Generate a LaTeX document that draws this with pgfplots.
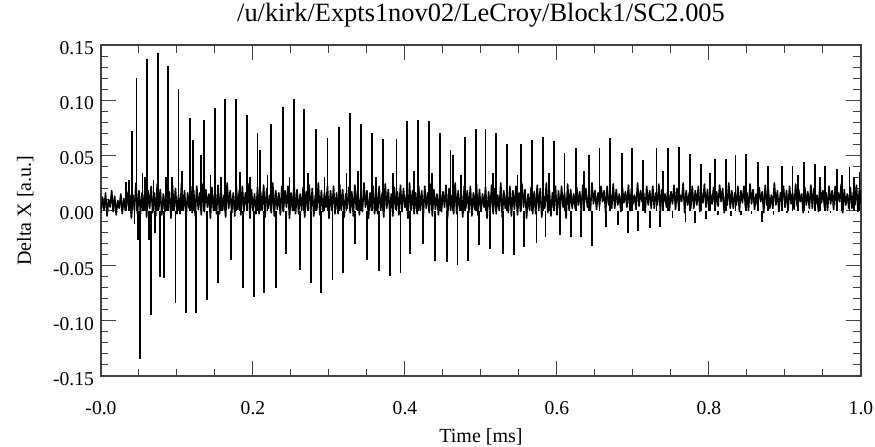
\documentclass[border=0pt]{standalone}
\usepackage{fontspec}
\setmainfont{Liberation Serif}
\usepackage{pgfplots}
\usepackage{pgfplotstable}
\pgfplotsset{compat=1.18}

% background trace between the spikes, Delta X vs time [ms]
\pgfplotstableread[row sep=\\]{
t v\\
0.000 -0.002\\ 0.002 0.012\\ 0.004 0.001\\ 0.006 0.016\\ 0.008 -0.005\\ 0.010 0.010\\ 0.012 0.003\\ 0.014 0.018\\ 0.016 -0.001\\ 0.018 0.013\\
0.020 -0.004\\ 0.022 0.009\\ 0.024 0.002\\ 0.026 0.015\\ 0.028 -0.003\\ 0.030 0.011\\ 0.032 0.000\\ 0.034 0.017\\ 0.036 0.004\\ 0.038 0.014\\
0.040 -0.007\\ 0.042 0.014\\ 0.044 0.000\\ 0.046 0.025\\ 0.048 -0.003\\ 0.050 0.018\\ 0.052 -0.003\\ 0.054 0.016\\ 0.056 0.000\\ 0.058 0.022\\
0.060 -0.006\\ 0.062 0.018\\ 0.064 0.002\\ 0.066 0.022\\ 0.068 -0.002\\ 0.070 0.016\\ 0.072 -0.005\\ 0.074 0.024\\ 0.076 0.001\\ 0.078 0.019\\
0.080 -0.004\\ 0.082 0.015\\ 0.084 -0.001\\ 0.086 0.021\\ 0.088 0.003\\ 0.090 0.017\\ 0.092 -0.007\\ 0.094 0.023\\ 0.096 0.000\\ 0.098 0.020\\
0.100 -0.003\\ 0.102 0.014\\ 0.104 -0.003\\ 0.106 0.025\\ 0.108 0.000\\ 0.110 0.018\\ 0.112 -0.006\\ 0.114 0.016\\ 0.116 0.002\\ 0.118 0.022\\
0.120 -0.002\\ 0.122 0.018\\ 0.124 -0.005\\ 0.126 0.022\\ 0.128 0.001\\ 0.130 0.016\\ 0.132 -0.004\\ 0.134 0.024\\ 0.136 -0.001\\ 0.138 0.019\\
0.140 0.003\\ 0.142 0.015\\ 0.144 -0.007\\ 0.146 0.021\\ 0.148 0.000\\ 0.150 0.017\\ 0.152 -0.003\\ 0.154 0.023\\ 0.156 -0.003\\ 0.158 0.020\\
0.160 0.000\\ 0.162 0.014\\ 0.164 -0.006\\ 0.166 0.025\\ 0.168 0.002\\ 0.170 0.018\\ 0.172 -0.002\\ 0.174 0.016\\ 0.176 -0.005\\ 0.178 0.022\\
0.180 0.001\\ 0.182 0.018\\ 0.184 -0.004\\ 0.186 0.022\\ 0.188 -0.001\\ 0.190 0.016\\ 0.192 0.003\\ 0.194 0.024\\ 0.196 -0.007\\ 0.198 0.019\\
0.200 0.000\\ 0.202 0.015\\ 0.204 -0.003\\ 0.206 0.021\\ 0.208 -0.003\\ 0.210 0.017\\ 0.212 0.000\\ 0.214 0.023\\ 0.216 -0.006\\ 0.218 0.020\\
0.220 0.002\\ 0.222 0.014\\ 0.224 -0.002\\ 0.226 0.025\\ 0.228 -0.005\\ 0.230 0.018\\ 0.232 0.001\\ 0.234 0.016\\ 0.236 -0.004\\ 0.238 0.022\\
0.240 -0.001\\ 0.242 0.018\\ 0.244 0.003\\ 0.246 0.022\\ 0.248 -0.007\\ 0.250 0.016\\ 0.252 0.000\\ 0.254 0.024\\ 0.256 -0.003\\ 0.258 0.019\\
0.260 -0.003\\ 0.262 0.015\\ 0.264 0.000\\ 0.266 0.021\\ 0.268 -0.006\\ 0.270 0.017\\ 0.272 0.002\\ 0.274 0.023\\ 0.276 -0.002\\ 0.278 0.020\\
0.280 -0.005\\ 0.282 0.014\\ 0.284 0.001\\ 0.286 0.025\\ 0.288 -0.004\\ 0.290 0.018\\ 0.292 -0.001\\ 0.294 0.016\\ 0.296 0.003\\ 0.298 0.022\\
0.300 -0.007\\ 0.302 0.018\\ 0.304 0.000\\ 0.306 0.022\\ 0.308 -0.003\\ 0.310 0.016\\ 0.312 -0.003\\ 0.314 0.024\\ 0.316 0.000\\ 0.318 0.019\\
0.320 -0.006\\ 0.322 0.015\\ 0.324 0.002\\ 0.326 0.021\\ 0.328 -0.002\\ 0.330 0.017\\ 0.332 -0.005\\ 0.334 0.023\\ 0.336 0.001\\ 0.338 0.020\\
0.340 -0.004\\ 0.342 0.014\\ 0.344 -0.001\\ 0.346 0.025\\ 0.348 0.003\\ 0.350 0.018\\ 0.352 -0.007\\ 0.354 0.016\\ 0.356 0.000\\ 0.358 0.022\\
0.360 -0.003\\ 0.362 0.018\\ 0.364 -0.003\\ 0.366 0.022\\ 0.368 0.000\\ 0.370 0.016\\ 0.372 -0.006\\ 0.374 0.024\\ 0.376 0.002\\ 0.378 0.019\\
0.380 -0.002\\ 0.382 0.015\\ 0.384 -0.005\\ 0.386 0.021\\ 0.388 0.001\\ 0.390 0.017\\ 0.392 -0.004\\ 0.394 0.023\\ 0.396 -0.001\\ 0.398 0.020\\
0.400 0.003\\ 0.402 0.014\\ 0.404 -0.007\\ 0.406 0.025\\ 0.408 0.000\\ 0.410 0.018\\ 0.412 -0.003\\ 0.414 0.016\\ 0.416 -0.003\\ 0.418 0.022\\
0.420 0.000\\ 0.422 0.018\\ 0.424 -0.006\\ 0.426 0.022\\ 0.428 0.002\\ 0.430 0.016\\ 0.432 -0.002\\ 0.434 0.024\\ 0.436 -0.005\\ 0.438 0.019\\
0.440 0.001\\ 0.442 0.015\\ 0.444 -0.004\\ 0.446 0.021\\ 0.448 -0.001\\ 0.450 0.017\\ 0.452 0.003\\ 0.454 0.023\\ 0.456 -0.007\\ 0.458 0.020\\
0.460 0.000\\ 0.462 0.014\\ 0.464 -0.003\\ 0.466 0.025\\ 0.468 -0.003\\ 0.470 0.018\\ 0.472 0.000\\ 0.474 0.016\\ 0.476 -0.006\\ 0.478 0.022\\
0.480 0.002\\ 0.482 0.018\\ 0.484 -0.002\\ 0.486 0.022\\ 0.488 -0.005\\ 0.490 0.016\\ 0.492 0.001\\ 0.494 0.024\\ 0.496 -0.004\\ 0.498 0.019\\
0.500 -0.001\\ 0.502 0.015\\ 0.504 0.003\\ 0.506 0.021\\ 0.508 -0.007\\ 0.510 0.017\\ 0.512 0.000\\ 0.514 0.023\\ 0.516 -0.003\\ 0.518 0.020\\
0.520 -0.003\\ 0.522 0.014\\ 0.524 0.000\\ 0.526 0.025\\ 0.528 -0.006\\ 0.530 0.018\\ 0.532 0.002\\ 0.534 0.016\\ 0.536 -0.002\\ 0.538 0.022\\
0.540 -0.005\\ 0.542 0.018\\ 0.544 0.001\\ 0.546 0.022\\ 0.548 -0.004\\ 0.550 0.016\\ 0.552 -0.001\\ 0.554 0.024\\ 0.556 0.003\\ 0.558 0.019\\
0.560 -0.007\\ 0.562 0.015\\ 0.564 0.000\\ 0.566 0.021\\ 0.568 -0.003\\ 0.570 0.017\\ 0.572 -0.003\\ 0.574 0.023\\ 0.576 0.000\\ 0.578 0.020\\
0.580 -0.006\\ 0.582 0.014\\ 0.584 0.002\\ 0.586 0.025\\ 0.588 -0.002\\ 0.590 0.018\\ 0.592 -0.005\\ 0.594 0.016\\ 0.596 0.001\\ 0.598 0.022\\
0.600 -0.004\\ 0.602 0.018\\ 0.604 -0.001\\ 0.606 0.022\\ 0.608 0.003\\ 0.610 0.016\\ 0.612 -0.007\\ 0.614 0.024\\ 0.616 0.000\\ 0.618 0.019\\
0.620 0.002\\ 0.622 0.015\\ 0.624 0.002\\ 0.626 0.021\\ 0.628 0.005\\ 0.630 0.017\\ 0.632 -0.001\\ 0.634 0.023\\ 0.636 0.007\\ 0.638 0.020\\
0.640 0.003\\ 0.642 0.014\\ 0.644 0.000\\ 0.646 0.025\\ 0.648 0.006\\ 0.650 0.018\\ 0.652 0.001\\ 0.654 0.016\\ 0.656 0.004\\ 0.658 0.022\\
0.660 0.008\\ 0.662 0.018\\ 0.664 -0.002\\ 0.666 0.022\\ 0.668 0.005\\ 0.670 0.016\\ 0.672 0.002\\ 0.674 0.024\\ 0.676 0.002\\ 0.678 0.019\\
0.680 0.005\\ 0.682 0.015\\ 0.684 -0.001\\ 0.686 0.021\\ 0.688 0.007\\ 0.690 0.017\\ 0.692 0.003\\ 0.694 0.023\\ 0.696 0.000\\ 0.698 0.020\\
0.700 0.006\\ 0.702 0.014\\ 0.704 0.001\\ 0.706 0.025\\ 0.708 0.004\\ 0.710 0.018\\ 0.712 0.008\\ 0.714 0.016\\ 0.716 -0.002\\ 0.718 0.022\\
0.720 0.005\\ 0.722 0.018\\ 0.724 0.002\\ 0.726 0.022\\ 0.728 0.002\\ 0.730 0.016\\ 0.732 0.005\\ 0.734 0.024\\ 0.736 -0.001\\ 0.738 0.019\\
0.740 0.007\\ 0.742 0.015\\ 0.744 0.003\\ 0.746 0.021\\ 0.748 0.000\\ 0.750 0.017\\ 0.752 0.006\\ 0.754 0.023\\ 0.756 0.001\\ 0.758 0.020\\
0.760 0.004\\ 0.762 0.014\\ 0.764 0.008\\ 0.766 0.025\\ 0.768 -0.002\\ 0.770 0.018\\ 0.772 0.005\\ 0.774 0.016\\ 0.776 0.002\\ 0.778 0.022\\
0.780 0.002\\ 0.782 0.018\\ 0.784 0.005\\ 0.786 0.022\\ 0.788 -0.001\\ 0.790 0.016\\ 0.792 0.007\\ 0.794 0.024\\ 0.796 0.003\\ 0.798 0.019\\
0.800 0.000\\ 0.802 0.015\\ 0.804 0.006\\ 0.806 0.021\\ 0.808 0.001\\ 0.810 0.017\\ 0.812 0.004\\ 0.814 0.023\\ 0.816 0.008\\ 0.818 0.020\\
0.820 -0.002\\ 0.822 0.014\\ 0.824 0.005\\ 0.826 0.025\\ 0.828 0.002\\ 0.830 0.018\\ 0.832 0.002\\ 0.834 0.016\\ 0.836 0.005\\ 0.838 0.022\\
0.840 -0.001\\ 0.842 0.018\\ 0.844 0.007\\ 0.846 0.022\\ 0.848 0.003\\ 0.850 0.016\\ 0.852 0.000\\ 0.854 0.024\\ 0.856 0.006\\ 0.858 0.019\\
0.860 0.001\\ 0.862 0.015\\ 0.864 0.004\\ 0.866 0.021\\ 0.868 0.008\\ 0.870 0.017\\ 0.872 -0.002\\ 0.874 0.023\\ 0.876 0.005\\ 0.878 0.020\\
0.880 0.002\\ 0.882 0.014\\ 0.884 0.002\\ 0.886 0.025\\ 0.888 0.005\\ 0.890 0.018\\ 0.892 -0.001\\ 0.894 0.016\\ 0.896 0.007\\ 0.898 0.022\\
0.900 0.003\\ 0.902 0.018\\ 0.904 0.000\\ 0.906 0.022\\ 0.908 0.006\\ 0.910 0.016\\ 0.912 0.001\\ 0.914 0.024\\ 0.916 0.004\\ 0.918 0.019\\
0.920 0.008\\ 0.922 0.015\\ 0.924 -0.002\\ 0.926 0.021\\ 0.928 0.005\\ 0.930 0.017\\ 0.932 0.002\\ 0.934 0.023\\ 0.936 0.002\\ 0.938 0.020\\
0.940 0.005\\ 0.942 0.014\\ 0.944 -0.001\\ 0.946 0.025\\ 0.948 0.007\\ 0.950 0.018\\ 0.952 0.003\\ 0.954 0.016\\ 0.956 0.000\\ 0.958 0.022\\
0.960 0.006\\ 0.962 0.018\\ 0.964 0.001\\ 0.966 0.022\\ 0.968 0.004\\ 0.970 0.016\\ 0.972 0.008\\ 0.974 0.024\\ 0.976 -0.002\\ 0.978 0.019\\
0.980 0.005\\ 0.982 0.015\\ 0.984 0.002\\ 0.986 0.021\\ 0.988 0.002\\ 0.990 0.017\\ 0.992 0.005\\ 0.994 0.023\\ 0.996 -0.001\\ 0.998 0.020\\
1.000 0.006\\
}\noise

% spike peaks (up and down)
\pgfplotstableread[row sep=\\]{
t v\\
0.0330 0.026\\ 0.0370 0.028\\ 0.0410 0.072\\ 0.0440 -0.012\\ 0.0466 0.120\\ 0.0490 -0.027\\ 0.0518 -0.135\\ 0.0545 0.034\\
0.0575 0.030\\ 0.0606 0.137\\ 0.0630 -0.027\\ 0.0654 -0.095\\ 0.0690 0.028\\ 0.0715 -0.020\\ 0.0746 0.143\\ 0.0780 -0.060\\
0.0825 -0.061\\ 0.0860 0.030\\ 0.0886 0.131\\ 0.0930 0.030\\ 0.0980 -0.084\\ 0.1020 0.110\\ 0.1070 0.036\\ 0.1120 -0.093\\
0.1167 0.084\\ 0.1210 0.064\\ 0.1255 -0.093\\ 0.1320 0.050\\ 0.1360 0.082\\ 0.1395 -0.081\\ 0.1440 0.032\\ 0.1496 0.093\\
0.1540 -0.066\\ 0.1580 0.030\\ 0.1630 0.101\\ 0.1710 -0.045\\ 0.1780 0.101\\ 0.1830 0.035\\ 0.1870 -0.070\\ 0.1920 0.087\\
0.1960 0.030\\ 0.2010 -0.078\\ 0.2060 0.070\\ 0.2090 0.055\\ 0.2150 -0.075\\ 0.2190 0.032\\ 0.2240 0.078\\ 0.2300 -0.070\\
0.2390 0.094\\ 0.2430 -0.039\\ 0.2480 0.030\\ 0.2535 0.101\\ 0.2620 -0.054\\ 0.2670 0.092\\ 0.2720 0.034\\ 0.2760 -0.066\\
0.2830 0.074\\ 0.2900 -0.075\\ 0.2940 0.030\\ 0.2980 0.066\\ 0.3045 -0.063\\ 0.3130 0.076\\ 0.3180 -0.057\\ 0.3230 0.034\\
0.3277 0.088\\ 0.3340 -0.030\\ 0.3380 0.036\\ 0.3420 0.078\\ 0.3505 -0.045\\ 0.3570 0.070\\ 0.3620 0.030\\ 0.3660 -0.055\\
0.3710 0.065\\ 0.3800 -0.059\\ 0.3840 0.034\\ 0.3887 0.065\\ 0.3940 -0.057\\ 0.4030 0.081\\ 0.4070 -0.039\\ 0.4120 0.036\\
0.4170 0.082\\ 0.4240 -0.030\\ 0.4316 0.081\\ 0.4360 0.034\\ 0.4400 -0.046\\ 0.4457 0.070\\ 0.4550 -0.047\\ 0.4600 0.055\\
0.4630 0.050\\ 0.4690 -0.049\\ 0.4740 0.032\\ 0.4786 0.067\\ 0.4830 -0.046\\ 0.4930 0.074\\ 0.4970 -0.031\\ 0.5060 0.074\\
0.5120 -0.035\\ 0.5160 0.034\\ 0.5200 0.070\\ 0.5290 -0.039\\ 0.5347 0.060\\ 0.5430 -0.040\\ 0.5480 0.032\\ 0.5530 0.060\\
0.5570 -0.033\\ 0.5676 0.064\\ 0.5730 -0.029\\ 0.5816 0.067\\ 0.5850 -0.024\\ 0.5900 0.034\\ 0.5960 0.063\\ 0.6040 -0.022\\
0.6100 0.052\\ 0.6180 -0.024\\ 0.6246 0.057\\ 0.6320 -0.024\\ 0.6360 0.036\\ 0.6420 0.050\\ 0.6460 -0.032\\ 0.6560 0.057\\
0.6640 -0.015\\ 0.6700 0.066\\ 0.6800 -0.013\\ 0.6860 0.052\\ 0.6935 -0.020\\ 0.6990 0.057\\ 0.7070 -0.019\\ 0.7130 0.046\\
0.7220 -0.016\\ 0.7308 0.057\\ 0.7360 -0.015\\ 0.7400 0.036\\ 0.7460 0.057\\ 0.7520 -0.007\\ 0.7605 0.058\\ 0.7690 -0.010\\
0.7746 0.051\\ 0.7820 -0.011\\ 0.7890 0.042\\ 0.7960 -0.008\\ 0.8010 0.034\\ 0.8075 0.047\\ 0.8120 -0.004\\ 0.8220 0.047\\
0.8290 -0.005\\ 0.8350 0.050\\ 0.8420 -0.004\\ 0.8490 0.051\\ 0.8560 -0.003\\ 0.8640 0.044\\ 0.8700 -0.010\\ 0.8780 0.040\\
0.8850 -0.004\\ 0.8960 0.040\\ 0.9030 -0.002\\ 0.9100 0.040\\ 0.9170 0.032\\ 0.9246 0.044\\ 0.9310 -0.002\\ 0.9390 0.042\\
0.9460 0.030\\ 0.9530 0.040\\ 0.9600 -0.002\\ 0.9680 0.038\\ 0.9750 0.032\\ 0.9850 0.039\\ 0.9910 0.030\\ 0.9980 0.035\\
}\spikes

\begin{document}
\begin{tikzpicture}
% fixes the page to the reference's proportions around the 380pt x 165.5pt box
\path[use as bounding box] (-50.5pt,-35pt) rectangle (387pt,188pt);
\begin{axis}[
    scale only axis,
    width=380pt, height=165.5pt,
    xmin=0, xmax=1,
    ymin=-0.15, ymax=0.15,
    xtick={0,0.2,0.4,0.6,0.8,1},
    xticklabels={-0.0,0.2,0.4,0.6,0.8,1.0},
    ytick={-0.15,-0.1,-0.05,0,0.05,0.1,0.15},
    yticklabels={-0.15,-0.10,-0.05,0.00,0.05,0.10,0.15},
    minor x tick num=3,
    minor y tick num=4,
    tick align=inside,
    major tick length=7.5pt,
    minor tick length=3.75pt,
    axis line style={black!75, line width=0.6pt},
    tick style={black!75, line width=0.5pt},
    tick label style={font=\fontsize{9.8}{11}\selectfont},
    xticklabel style={anchor=base, yshift=-19.3pt},
    yticklabel style={yshift=-1.5pt},
    title={/u/kirk/Expts1nov02/LeCroy/Block1/SC2.005},
    title style={font=\fontsize{13.2}{15}\selectfont, at={(axis description cs:0.5,1)}, anchor=base, yshift=6pt},
    xlabel={Time [ms]},
    ylabel={Delta X [a.u.]},
    label style={font=\fontsize{10.7}{12}\selectfont},
    every axis x label/.style={at={(axis description cs:0.5,0)}, anchor=base, yshift=-33pt},
    every axis y label/.style={at={(axis description cs:-0.0921,0.5)}, anchor=base, rotate=90},
]
\addplot[black, line width=0.8pt, line join=round] table[x=t, y=v] {\noise};
\addplot[black, line width=0.9pt, ycomb] table[x=t, y=v] {\spikes};
\end{axis}
\end{tikzpicture}
\end{document}
